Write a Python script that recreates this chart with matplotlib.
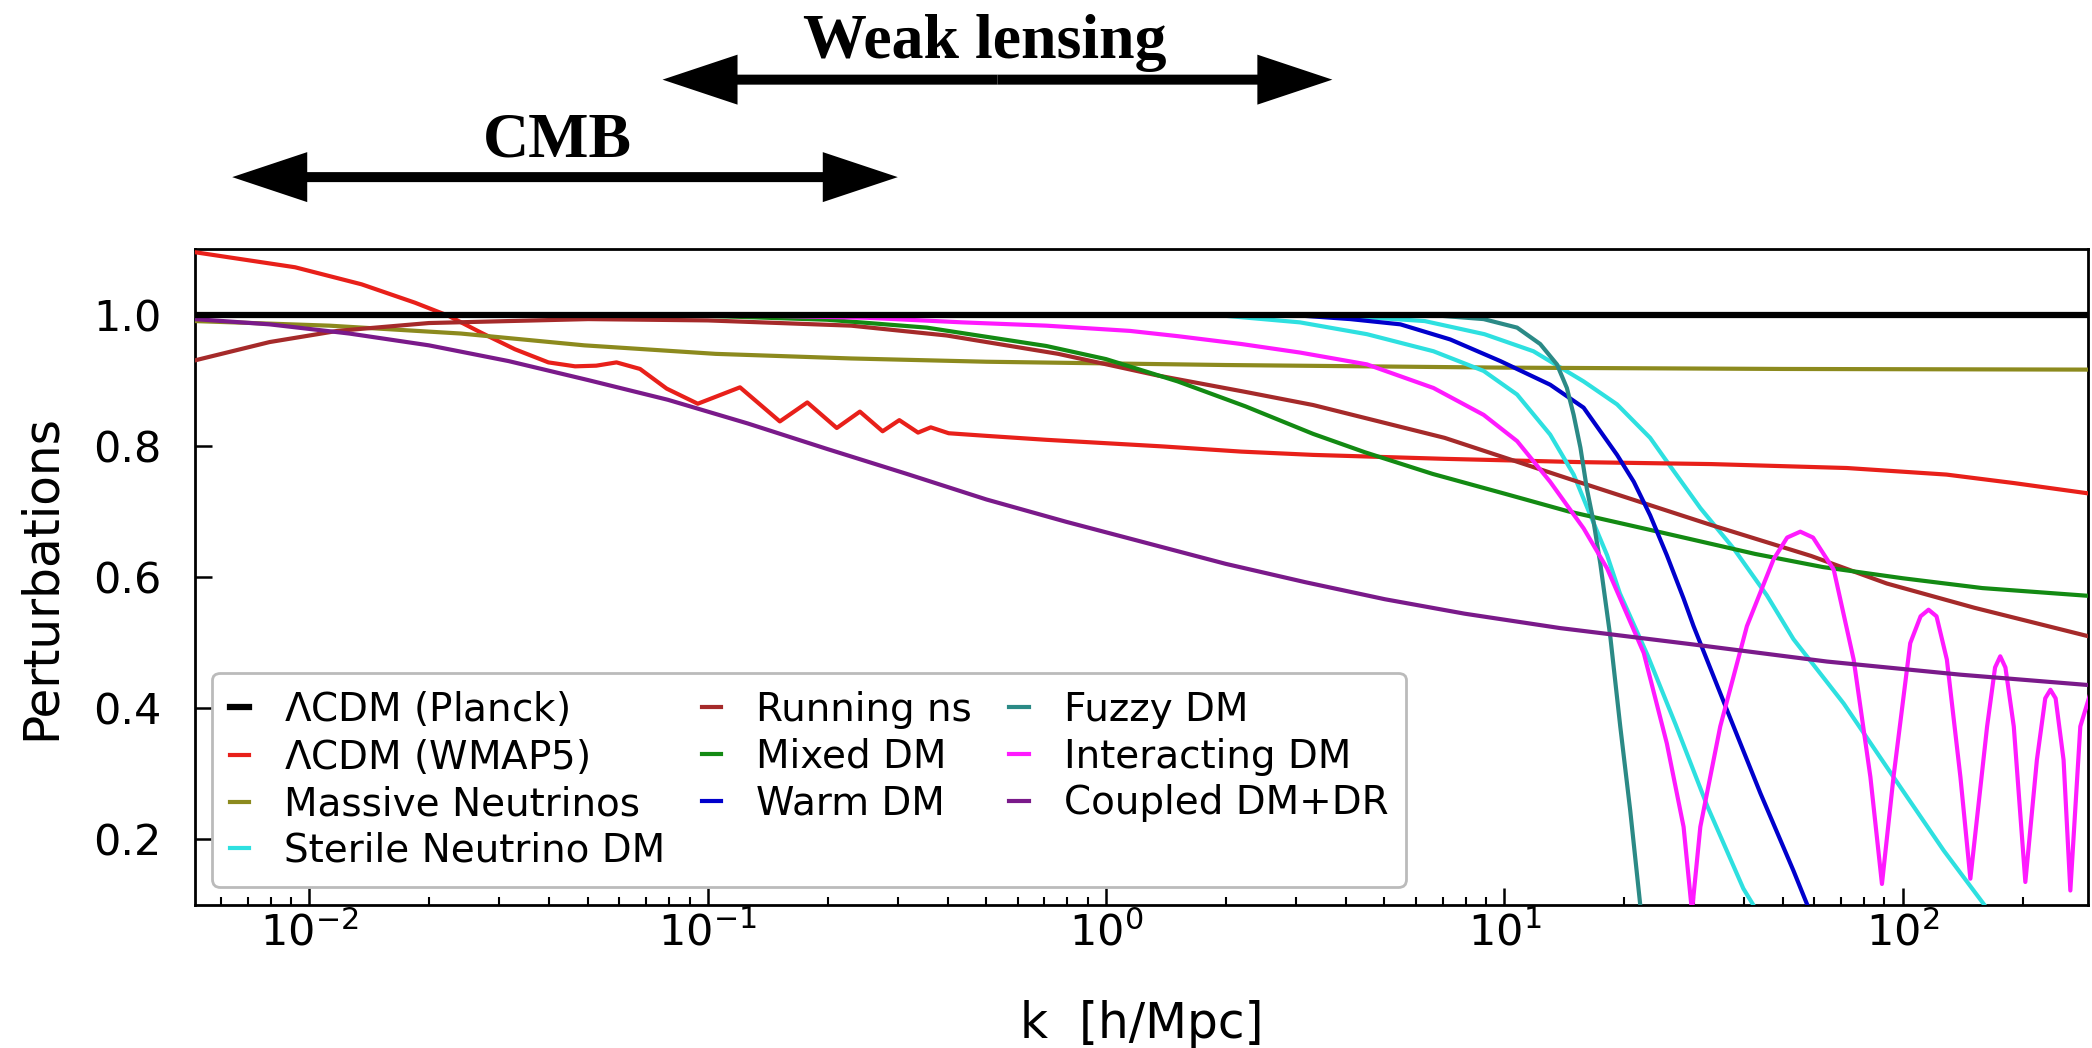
import matplotlib
matplotlib.use("Agg")
import matplotlib.pyplot as plt
import matplotlib.transforms as mtransforms
import numpy as np

# ------------------------------------------------------------------
# Values: log10(k [h/Mpc]) and perturbation ratio
# ------------------------------------------------------------------

planck_logk = [-2.29, 2.47]
planck_y = [1.0, 1.0]

wmap5_logk = [-2.288, -2.036, -1.869, -1.735, -1.651, -1.568, -1.484, -1.40, -1.333,
              -1.28, -1.229, -1.17, -1.103, -1.025, -0.919, -0.819, -0.75, -0.676,
              -0.618, -0.561, -0.519, -0.472, -0.44, -0.395, -0.30, -0.15, 0.14,
              0.34, 0.52, 0.85, 1.19, 1.52, 1.86, 2.11, 2.28, 2.47]
wmap5_y = [1.095, 1.072, 1.046, 1.018, 0.998, 0.972, 0.947, 0.927, 0.921,
           0.922, 0.927, 0.917, 0.887, 0.864, 0.889, 0.837, 0.866, 0.827,
           0.852, 0.822, 0.839, 0.820, 0.828, 0.819, 0.815, 0.809, 0.799,
           0.791, 0.786, 0.780, 0.775, 0.772, 0.766, 0.756, 0.743, 0.727]

massive_nu_logk = [-2.288, -1.95, -1.62, -1.31, -0.98, -0.64, -0.30, 0.30, 1.0, 1.7, 2.47]
massive_nu_y = [0.990, 0.983, 0.971, 0.953, 0.940, 0.933, 0.928, 0.923, 0.919, 0.917, 0.916]

sterile_a_logk = [-2.288, 0.3, 0.487, 0.655, 0.822, 0.948, 1.032, 1.115, 1.174, 1.216,
                  1.258, 1.29, 1.36, 1.43, 1.51, 1.60, 1.625, 1.67]
sterile_a_y = [1.0, 0.998, 0.988, 0.970, 0.944, 0.914, 0.878, 0.817, 0.756, 0.694,
               0.633, 0.575, 0.48, 0.375, 0.25, 0.125, 0.10, 0.04]

sterile_b_logk = [-2.288, 0.6, 0.8, 0.95, 1.073, 1.199, 1.283, 1.366, 1.408, 1.492,
                  1.576, 1.659, 1.726, 1.852, 1.977, 2.103, 2.204, 2.25]
sterile_b_y = [1.0, 0.998, 0.99, 0.97, 0.944, 0.898, 0.863, 0.812, 0.776, 0.705,
               0.643, 0.572, 0.505, 0.407, 0.295, 0.183, 0.101, 0.06]

running_logk = [-2.288, -2.1, -1.93, -1.7, -1.3, -1.0, -0.64, -0.4, -0.12, 0.13, 0.35,
                0.52, 0.85, 1.18, 1.52, 1.77, 1.96, 2.18, 2.47]
running_y = [0.930, 0.958, 0.975, 0.987, 0.993, 0.991, 0.983, 0.968, 0.940, 0.907, 0.882,
             0.862, 0.812, 0.746, 0.679, 0.632, 0.590, 0.553, 0.509]

mixed_logk = [-2.288, -1.5, -1.0, -0.7, -0.45, -0.3, -0.15, 0.0, 0.18, 0.35, 0.52,
              0.65, 0.82, 1.0, 1.16, 1.4, 1.63, 1.8, 2.0, 2.2, 2.47]
mixed_y = [1.0, 1.0, 0.998, 0.992, 0.980, 0.966, 0.952, 0.932, 0.898, 0.860, 0.818,
           0.790, 0.757, 0.727, 0.700, 0.667, 0.635, 0.615, 0.598, 0.583, 0.571]

warm_logk = [-2.288, 0.45, 0.613, 0.739, 0.864, 0.99, 1.115, 1.199, 1.283, 1.325,
             1.366, 1.408, 1.45, 1.475, 1.559, 1.643, 1.726, 1.76, 1.8]
warm_y = [1.0, 1.0, 0.993, 0.985, 0.962, 0.929, 0.893, 0.858, 0.786, 0.745,
          0.694, 0.633, 0.567, 0.525, 0.397, 0.270, 0.152, 0.101, 0.05]

fuzzy_logk = [-2.288, 0.8, 0.948, 1.032, 1.09, 1.132, 1.157, 1.174, 1.191, 1.207,
              1.224, 1.241, 1.266, 1.291, 1.316, 1.341, 1.36]
fuzzy_y = [1.0, 1.0, 0.993, 0.980, 0.955, 0.924, 0.888, 0.847, 0.797, 0.735,
           0.684, 0.620, 0.509, 0.372, 0.244, 0.101, 0.0]

interacting_logk = [-2.288, -1.0, -0.6, -0.36, -0.15, 0.06, 0.18, 0.34, 0.487, 0.655,
                    0.822, 0.948, 1.032, 1.115, 1.199, 1.258, 1.35, 1.408, 1.45, 1.471,
                    1.492, 1.542, 1.609, 1.676, 1.71, 1.743, 1.775, 1.827, 1.877, 1.919,
                    1.948, 1.977, 2.019, 2.045, 2.065, 2.085, 2.111, 2.145, 2.170, 2.212,
                    2.232, 2.245, 2.258, 2.279, 2.308, 2.337, 2.358, 2.371, 2.384, 2.404,
                    2.421, 2.446, 2.48]
interacting_y = [1.0, 1.0, 0.995, 0.988, 0.983, 0.975, 0.967, 0.955, 0.942, 0.924,
                 0.888, 0.847, 0.807, 0.745, 0.674, 0.613, 0.484, 0.346, 0.219, 0.09,
                 0.219, 0.372, 0.525, 0.627, 0.660, 0.669, 0.660, 0.611, 0.474, 0.295,
                 0.132, 0.295, 0.499, 0.540, 0.550, 0.540, 0.474, 0.295, 0.140, 0.372,
                 0.462, 0.479, 0.462, 0.372, 0.135, 0.321, 0.415, 0.428, 0.415, 0.321,
                 0.122, 0.372, 0.44]

coupled_logk = [-2.288, -2.1, -1.9, -1.7, -1.5, -1.3, -1.1, -0.9, -0.7, -0.5, -0.3,
                -0.1, 0.1, 0.3, 0.5, 0.7, 0.9, 1.14, 1.475, 1.81, 2.145, 2.47]
coupled_y = [0.993, 0.985, 0.971, 0.953, 0.929, 0.900, 0.870, 0.834, 0.795, 0.757, 0.718,
             0.684, 0.652, 0.620, 0.592, 0.566, 0.544, 0.522, 0.497, 0.471, 0.451, 0.435]

# probe ranges in k [h/Mpc] and where their labels sit
cmb_range = (0.0064, 0.30)
wl_range = (0.077, 3.7)
cmb_label_k = 0.042
wl_label_k = 0.495


def main() -> None:
    fig = plt.figure(figsize=(20.92, 10.48), dpi=100)
    ax = fig.add_axes([0.0932, 0.1365, 0.9049, 0.626])

    series = [
        (sterile_b_logk, sterile_b_y, "#2ee0e0", None),
        (planck_logk, planck_y, "black", r"$\Lambda$CDM (Planck)"),
        (wmap5_logk, wmap5_y, "#e8201a", r"$\Lambda$CDM (WMAP5)"),
        (massive_nu_logk, massive_nu_y, "#8c8a1e", "Massive Neutrinos"),
        (sterile_a_logk, sterile_a_y, "#2ee0e0", "Sterile Neutrino DM"),
        (running_logk, running_y, "#a52a2a", "Running ns"),
        (mixed_logk, mixed_y, "#138a13", "Mixed DM"),
        (warm_logk, warm_y, "#0000cc", "Warm DM"),
        (fuzzy_logk, fuzzy_y, "#2b8a86", "Fuzzy DM"),
        (interacting_logk, interacting_y, "#ff1aff", "Interacting DM"),
        (coupled_logk, coupled_y, "#7a1a8a", "Coupled DM+DR"),
    ]

    for logk, y, color, label in series:
        k = 10 ** np.asarray(logk)
        if label and "Planck" in label:
            ax.plot(k, y, color=color, lw=4.5, label=label, zorder=4)
        else:
            ax.plot(k, y, color=color, lw=3.0, label=label, zorder=3)

    ax.set_xscale("log")
    ax.set_xlim(0.00516, 292)
    ax.set_ylim(0.1, 1.1)
    ax.set_yticks([0.2, 0.4, 0.6, 0.8, 1.0])

    for sp in ax.spines.values():
        sp.set_linewidth(2)

    ax.tick_params(axis="both", which="both", direction="in", top=False, right=False)
    ax.tick_params(which="major", length=12, width=1.8, labelsize=31)
    ax.tick_params(which="minor", length=6, width=1.5)
    ax.tick_params(axis="x", which="major", pad=5)
    ax.tick_params(axis="y", which="major", pad=24)

    ax.set_xlabel("k  [h/Mpc]", fontsize=35)
    ax.set_ylabel("Perturbations", fontsize=35)
    ax.xaxis.set_label_coords(0.5, -0.145)
    ax.yaxis.set_label_coords(-0.069, 0.5)

    leg = ax.legend(loc="lower left", bbox_to_anchor=(0.009, 0.027), borderaxespad=0,
                    ncol=3, fontsize=28, handlelength=0.5, handletextpad=0.9,
                    columnspacing=0.95, labelspacing=0.22, borderpad=0.45,
                    framealpha=1, edgecolor="#bbbbbb")
    leg.get_frame().set_linewidth(2)

    # probe ranges drawn above the axes
    blend = mtransforms.blended_transform_factory(ax.transData, fig.transFigure)
    arrow_style = "simple,head_length=1.5,head_width=1.0,tail_width=0.2"
    for (lo, hi), label_k, y_arrow, y_text, text in [
        (cmb_range, cmb_label_k, 0.831, 0.851, "CMB"),
        (wl_range, wl_label_k, 0.924, 0.945, "Weak lensing"),
    ]:
        mid = np.sqrt(lo * hi)
        for end in (lo, hi):
            ax.annotate("", xy=(end, y_arrow), xytext=(mid, y_arrow),
                        xycoords=blend, textcoords=blend, annotation_clip=False,
                        arrowprops=dict(arrowstyle=arrow_style, mutation_scale=36,
                                        color="black", lw=0, shrinkA=0, shrinkB=0))
        ax.text(label_k, y_text, text, transform=blend, ha="center", va="baseline",
                fontsize=46, fontweight="bold", family="Liberation Serif")

    fig.savefig("out.png", dpi=100)
    plt.close(fig)


if __name__ == "__main__":
    main()
